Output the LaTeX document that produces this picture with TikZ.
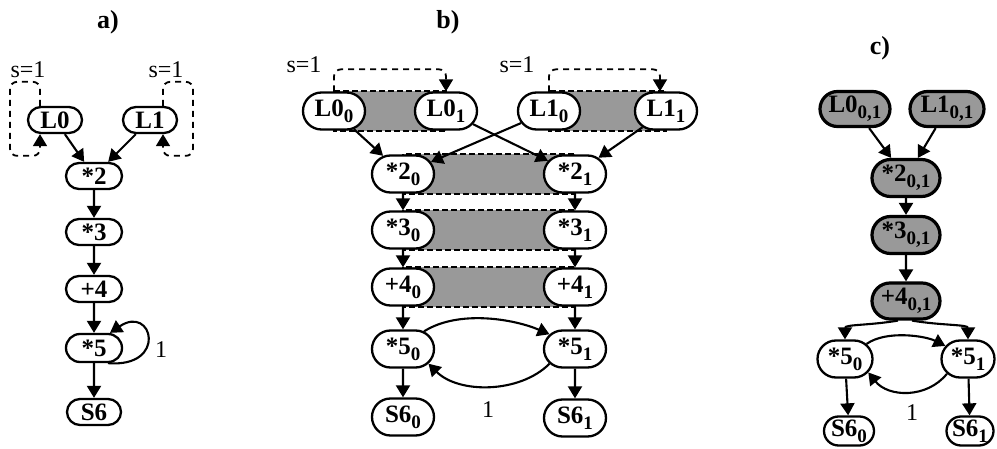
\documentclass[tikz,border=0pt]{standalone}
\usepackage{fontspec}
\setmainfont{Liberation Serif}
\usetikzlibrary{arrows.meta,shapes.misc,calc}
\pgfdeclarelayer{background}
\pgfsetlayers{background,main}
\newcommand\sbs[1]{\raisebox{-0.5ex}{\fontsize{19}{19}\selectfont #1}}
\tikzset{
  base/.style={rounded rectangle, draw, line width=2.3pt, fill=white, inner xsep=2pt, inner ysep=0pt, font=\bfseries\fontsize{25}{25}\selectfont},
  na/.style={base, minimum width=58pt, minimum height=26pt},
  nb/.style={base, minimum width=66pt, minimum height=37pt},
  nc/.style={base, minimum width=74pt, minimum height=35pt, fill=black!40, line width=3.2pt},
  nc5/.style={base, minimum width=59pt, minimum height=37pt},
  nc6/.style={base, minimum width=54pt, minimum height=29pt},
  arr/.style={-{Triangle[length=12pt,width=14pt]}, line width=2.1pt},
  loopd/.style={dash pattern=on 6pt off 5pt, line width=1.8pt, rounded corners=7pt},
  band/.style={fill=black!40, draw, dash pattern=on 6pt off 3pt, line width=1.8pt},
  lbl/.style={font=\fontsize{24}{24}\selectfont, inner sep=0pt},
  ttl/.style={font=\bfseries\fontsize{26}{26}\selectfont, inner sep=0pt},
}
\begin{document}
\begin{tikzpicture}[x=1pt,y=-1pt]
\useasboundingbox (0,0) rectangle (997,449);
% ---------------- panel a
\node[ttl] (ta) at (108,22) {a)};
\node[na] (a0) at (55,120) {L0};
\node[na] (a1) at (150,120) {L1};
\node[na, minimum width=60pt] (a2) at (94,176) {*2};
\node[na, minimum width=60pt] (a3) at (94,232) {*3};
\node[na, minimum width=60pt] (a4) at (94,289) {+4};
\node[na, minimum width=60pt, minimum height=28pt] (a5) at (94,348) {*5};
\node[na] (a6) at (94,412) {S6};
\node[lbl] (sa0) at (28,70) {s=1};
\node[lbl] (sa1) at (166,70) {s=1};
\node[lbl] (la) at (161,350) {1};
\draw[arr] (a0) -- (a2);
\draw[arr] (a1) -- (a2);
\draw[arr] (a2) -- (a3);
\draw[arr] (a3) -- (a4);
\draw[arr] (a4) -- (a5);
\draw[arr] (a5) -- (a6);
\draw[arr, loopd] ([xshift=-15pt]a0.north) -- ++(0,-24) -- ++(-30,0) -- ++(0,74) -- ++(30,0) -- ([xshift=-15pt]a0.south);
\draw[arr, loopd] ([xshift=13pt]a1.north) -- ++(0,-24) -- ++(30,0) -- ++(0,74) -- ++(-30,0) -- ([xshift=13pt]a1.south);
\draw[arr] ([xshift=14pt]a5.south) .. controls ($(a5.south)+(74,5)$) and ($(a5.north)+(59,-29)$) .. ([xshift=16pt]a5.north);
% ---------------- panel b
\node[ttl] (tb) at (448,22) {b)};
\node[nb] (b00) at (334,111) {L0\sbs{0}};
\node[nb] (b01) at (446,111) {L0\sbs{1}};
\node[nb] (b10) at (549,111) {L1\sbs{0}};
\node[nb] (b11) at (666,111) {L1\sbs{1}};
\node[nb] (b20) at (403,174) {*2\sbs{0}};
\node[nb] (b21) at (575,174) {*2\sbs{1}};
\node[nb] (b30) at (403,230) {*3\sbs{0}};
\node[nb] (b31) at (575,230) {*3\sbs{1}};
\node[nb] (b40) at (403,287) {+4\sbs{0}};
\node[nb] (b41) at (575,287) {+4\sbs{1}};
\node[nb] (b50) at (403,349) {*5\sbs{0}};
\node[nb] (b51) at (575,349) {*5\sbs{1}};
\node[nb] (b60) at (403,417) {S6\sbs{0}};
\node[nb] (b61) at (575,418) {S6\sbs{1}};
\node[lbl] (sb0) at (304,65) {s=1};
\node[lbl] (sb1) at (517,65) {s=1};
\node[lbl] (lb) at (488,410) {1};
\begin{pgfonlayer}{background}
\draw[band] (b00.north) rectangle (b01.south);
\draw[band] (b10.north) rectangle (b11.south);
\draw[band] (b20.north) rectangle (b21.south);
\draw[band] (b30.north) rectangle (b31.south);
\draw[band] (b40.north) rectangle (b41.south);
\end{pgfonlayer}
\draw[arr, loopd] (b00.north) -- ++(0,-22) -| (b01.north);
\draw[arr, loopd] (b10.north) -- ++(0,-22) -| ([xshift=-6pt]b11.north);
\draw[arr] (b00) -- (b20);
\draw[arr] (b01) -- (b21);
\draw[arr] (b10) -- (b20);
\draw[arr] (b11) -- (b21);
\draw[arr] (b20) -- (b30);
\draw[arr] (b21) -- (b31);
\draw[arr] (b30) -- (b40);
\draw[arr] (b31) -- (b41);
\draw[arr] (b40) -- (b50);
\draw[arr] (b41) -- (b51);
\draw[arr] (b50) -- (b60);
\draw[arr] (b51) -- (b61);
\draw[arr] (b50.40) .. controls +(35,-22) and +(-35,-15) .. (b51.150);
\draw[arr] (b51.210) .. controls +(-30,30) and +(30,30) .. (b50.-30);
% ---------------- panel c
\node[ttl] (tc) at (880,48) {c)};
\node[nc] (c0) at (855,109) {L0\sbs{0,1}};
\node[nc, minimum width=78pt] (c1) at (947,109) {L1\sbs{0,1}};
\node[nc, minimum width=72pt, minimum height=37pt] (c2) at (906,178) {*2\sbs{0,1}};
\node[nc, minimum width=72pt, minimum height=37pt] (c3) at (906,235) {*3\sbs{0,1}};
\node[nc, minimum width=72pt, minimum height=36pt] (c4) at (906,301) {+4\sbs{0,1}};
\node[nc5] (c50) at (845,359) {*5\sbs{0}};
\node[nc5, minimum width=57pt] (c51) at (968,359) {*5\sbs{1}};
\node[nc6] (c60) at (849,431) {S6\sbs{0}};
\node[nc6, minimum width=51pt] (c61) at (970,431) {S6\sbs{1}};
\node[lbl] (lc) at (912,413) {1};
\draw[arr] (c0) -- (c2);
\draw[arr] (c1) -- (c2);
\draw[arr] (c2) -- (c3);
\draw[arr] (c3) -- (c4);
\draw[arr] ([xshift=-8pt]c4.south) .. controls +(-30,5) and +(0,-15) .. (c50.north);
\draw[arr] ([xshift=6pt]c4.south) .. controls +(30,5) and +(0,-15) .. (c51.north);
\draw[arr] (c50.35) .. controls +(20,-14) and +(-20,-10) .. (c51.150);
\draw[arr] (c51.215) .. controls +(-20,25) and +(20,25) .. (c50.-30);
\draw[arr] (c50) -- (c60);
\draw[arr] (c51) -- (c61);
\end{tikzpicture}
\end{document}
